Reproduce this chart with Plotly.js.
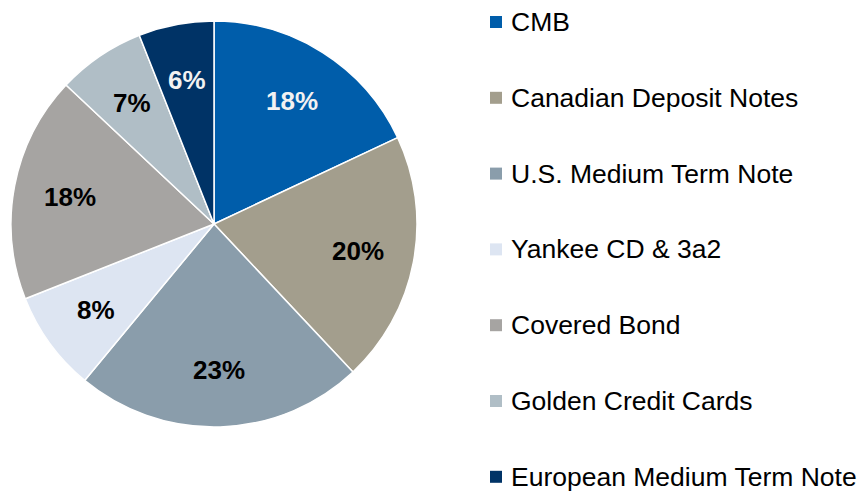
<!DOCTYPE html>
<html>
<head>
<meta charset="utf-8">
<script src="https://cdn.plot.ly/plotly-3.0.1.min.js"></script>
<style>html,body{margin:0;padding:0;background:#fff;}#chart{width:867px;height:491px;}</style>
</head>
<body>
<div id="chart"></div>
<script>
const labels = ["CMB", "Canadian Deposit Notes", "U.S. Medium Term Note", "Yankee CD & 3a2", "Covered Bond", "Golden Credit Cards", "European Medium Term Note"];
const values = [18, 20, 23, 8, 18, 7, 6];
const colors = ["#005DAA", "#A39E8D", "#8A9DAB", "#DDE5F2", "#A6A4A2", "#B0BEC6", "#003366"];
const textColors = ["#F2F2F2", "#000000", "#000000", "#000000", "#000000", "#000000", "#F2F2F2"];

const W = 867, H = 491;
const cx = 214, cy = 224, r = 203;
const FONT = "Liberation Sans, Arial, sans-serif";

const trace = {
  type: "pie",
  labels: labels,
  values: values,
  sort: false,
  direction: "clockwise",
  rotation: 0,
  marker: {colors: colors, line: {color: "#FFFFFF", width: 1.5}},
  textinfo: "none",
  domain: {x: [(cx - r) / W, (cx + r) / W], y: [1 - (cy + r) / H, 1 - (cy - r) / H]},
  hoverinfo: "label+percent",
  showlegend: false
};

const shapes = [], annotations = [];

// Data labels: placed at each slice's mid-angle, derived from the values
const total = values.reduce((a, b) => a + b, 0);
let cum = 0;
values.forEach((v, i) => {
  const mid = (cum + v / 2) / total * 2 * Math.PI;
  cum += v;
  const rho = 0.72 * r;
  const px = cx + rho * Math.sin(mid);
  const py = cy - rho * Math.cos(mid);
  annotations.push({xref: "paper", yref: "paper", x: px / W, y: 1 - py / H,
    xanchor: "center", yanchor: "middle", text: "<b>" + v + "%</b>", showarrow: false,
    font: {family: FONT, size: 26, color: textColors[i]}});
});

// Legend built from the label/colour arrays
const legendTop = 22, legendStep = 75.8;
labels.forEach((lab, i) => {
  const yc = legendTop + i * legendStep;
  shapes.push({type: "rect", xref: "paper", yref: "paper",
    x0: 490 / W, x1: 502 / W, y0: 1 - (yc + 6) / H, y1: 1 - (yc - 6) / H,
    fillcolor: colors[i], line: {width: 0}});
  annotations.push({xref: "paper", yref: "paper", x: 510 / W, y: 1 - yc / H,
    xanchor: "left", yanchor: "middle", text: lab, showarrow: false, borderpad: 0,
    font: {family: FONT, size: 26.5, color: "#000000"}});
});

const layout = {
  width: W, height: H,
  margin: {l: 0, r: 0, t: 0, b: 0},
  paper_bgcolor: "#FFFFFF",
  showlegend: false,
  shapes: shapes,
  annotations: annotations
};

Plotly.newPlot("chart", [trace], layout, {displayModeBar: false, staticPlot: true});
</script>
</body>
</html>
